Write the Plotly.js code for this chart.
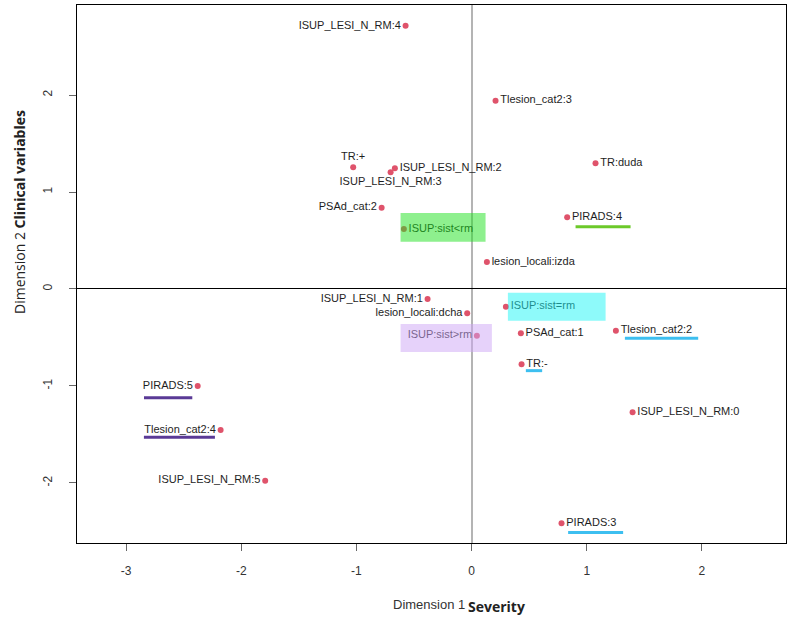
<!DOCTYPE html>
<html>
<head>
<meta charset="utf-8">
<script src="https://cdn.plot.ly/plotly-3.0.1.min.js"></script>
<style>html,body{margin:0;padding:0;background:#fff;}#chart{width:789px;height:617px;}</style>
</head>
<body>
<div id="chart"></div>
<script>
// ---- data (MCA category coordinates) ----
var categories = [
  "ISUP_LESI_N_RM:4", "Tlesion_cat2:3", "TR:+", "ISUP_LESI_N_RM:2", "ISUP_LESI_N_RM:3",
  "TR:duda", "PSAd_cat:2", "ISUP:sist<rm", "PIRADS:4", "lesion_locali:izda",
  "ISUP_LESI_N_RM:1", "lesion_locali:dcha", "ISUP:sist=rm", "ISUP:sist>rm", "PSAd_cat:1",
  "Tlesion_cat2:2", "TR:-", "PIRADS:5", "Tlesion_cat2:4", "ISUP_LESI_N_RM:0",
  "ISUP_LESI_N_RM:5", "PIRADS:3"
];
var dim1 = [
  -0.573, 0.208, -1.028, -0.666, -0.703,
  1.076, -0.781, -0.588, 0.830, 0.133,
  -0.382, -0.038, 0.298, 0.046, 0.428,
  1.253, 0.434, -2.378, -2.179, 1.398,
  -1.792, 0.781
];
var dim2 = [
  2.714, 1.941, 1.255, 1.244, 1.203,
  1.296, 0.838, 0.619, 0.739, 0.278,
  -0.103, -0.251, -0.182, -0.481, -0.457,
  -0.430, -0.776, -1.000, -1.454, -1.271,
  -1.976, -2.415
];
var xTicks = [-3, -2, -1, 0, 1, 2];
var yTicks = [-2, -1, 0, 1, 2];

// ---- label placement (style) ----
var labelPos = [
  "middle left", "middle right", "top center", "middle right", "bottom center",
  "middle right", "middle left", "middle right", "middle right", "middle right",
  "middle left", "middle left", "middle right", "middle left", "middle right",
  "middle right", "middle right", "middle left", "middle left", "middle right",
  "middle left", "middle right"
];

// ---- layout geometry ----
var W = 789, H = 617;
var M = {l: 77, r: 3, t: 5, b: 74};
var xRange = [-3.426, 2.73];
var yRange = [-2.619, 2.928];
var pw = W - M.l - M.r, ph = H - M.t - M.b;
var sx = pw / (xRange[1] - xRange[0]);
var sy = ph / (yRange[1] - yRange[0]);
function idx(lbl) { return categories.indexOf(lbl); }

// highlight boxes and underlines, given as pixel offsets from the labelled point
var boxes = [
  {label: "ISUP:sist<rm", dx0: -3.3, dx1: 81.7, dy0: -16, dy1: 12.7, color: "rgba(30,225,30,0.5)"},
  {label: "ISUP:sist=rm", dx0: 2, dx1: 99.7, dy0: -14, dy1: 14, color: "rgba(30,245,245,0.5)"},
  {label: "ISUP:sist>rm", dx0: -76.3, dx1: 15, dy0: -11.7, dy1: 16.3, color: "rgba(205,165,245,0.5)"}
];
var unders = [
  {label: "PIRADS:4", dx0: 8.4, dx1: 63.4, dy: 9.4, color: "#6cc92a"},
  {label: "Tlesion_cat2:2", dx0: 9, dx1: 82.3, dy: 7.6, color: "#3dbff0"},
  {label: "TR:-", dx0: 4.3, dx1: 20.6, dy: 6.4, color: "#3dbff0"},
  {label: "PIRADS:3", dx0: 6.6, dx1: 61.6, dy: 9.4, color: "#3dbff0"},
  {label: "PIRADS:5", dx0: -53.7, dx1: -5.4, dy: 11.7, color: "#5a3a96"},
  {label: "Tlesion_cat2:4", dx0: -76.7, dx1: -5.7, dy: 7.3, color: "#5a3a96"}
];

var shapes = [];
boxes.forEach(function (b) {
  var i = idx(b.label);
  shapes.push({
    type: "rect", layer: "above", xref: "x", yref: "y",
    x0: dim1[i] + b.dx0 / sx, x1: dim1[i] + b.dx1 / sx,
    y0: dim2[i] - b.dy0 / sy, y1: dim2[i] - b.dy1 / sy,
    fillcolor: b.color, line: {width: 0}
  });
});
unders.forEach(function (u) {
  var i = idx(u.label);
  var yy = dim2[i] - u.dy / sy;
  shapes.push({
    type: "line", layer: "above", xref: "x", yref: "y",
    x0: dim1[i] + u.dx0 / sx, x1: dim1[i] + u.dx1 / sx, y0: yy, y1: yy,
    line: {color: u.color, width: 3}
  });
});

var trace = {
  type: "scatter", mode: "markers+text",
  x: dim1, y: dim2, text: categories, textposition: labelPos,
  marker: {color: "#DF536B", size: 6},
  textfont: {family: "Liberation Sans, Arial, sans-serif", size: 11, color: "#1e1e1e"},
  hoverinfo: "text", cliponaxis: false
};

var axisCommon = {
  showgrid: false, showline: true, mirror: true, linecolor: "#000", linewidth: 1,
  ticks: "outside", ticklen: 7, tickcolor: "#666", tickwidth: 1,
  tickfont: {family: "Liberation Sans, Arial, sans-serif", size: 12, color: "#333"},
  tickmode: "array", zeroline: true
};

var layout = {
  width: W, height: H, margin: M,
  paper_bgcolor: "#fff", plot_bgcolor: "#fff",
  showlegend: false,
  xaxis: Object.assign({}, axisCommon, {
    range: xRange, tickvals: xTicks, ticktext: xTicks.map(String),
    zerolinecolor: "#b4b4b4", zerolinewidth: 2, ticklabelstandoff: 10
  }),
  yaxis: Object.assign({}, axisCommon, {
    range: yRange, tickvals: yTicks, ticktext: yTicks.map(String),
    zerolinecolor: "#000", zerolinewidth: 1, tickangle: -90, ticklabelstandoff: 12
  }),
  shapes: shapes,
  annotations: [
    {xref: "paper", yref: "paper", x: (467 - M.l) / pw, y: -(604 - (H - M.b)) / ph,
     xanchor: "right", yanchor: "middle", showarrow: false,
     text: "Dimension 1", font: {family: "Liberation Sans Narrow, Liberation Sans, Arial, sans-serif", size: 13, color: "#333"}},
    {xref: "paper", yref: "paper", x: (466 - M.l) / pw, y: -(606 - (H - M.b)) / ph,
     xanchor: "left", yanchor: "middle", showarrow: false,
     text: "<b>Severity</b>", font: {family: "Open Sans, sans-serif", size: 14, color: "#222"}},
    {xref: "paper", yref: "paper", x: -(M.l - 20) / pw, y: ((H - M.b) - 212) / ph,
     xanchor: "center", yanchor: "middle", showarrow: false, textangle: -90,
     text: "Dimension 2 <b>Clinical variables</b>", font: {family: "Open Sans, sans-serif", size: 14, color: "#222"}}
  ]
};

Plotly.newPlot("chart", [trace], layout, {displayModeBar: false, staticPlot: true});
</script>
</body>
</html>
